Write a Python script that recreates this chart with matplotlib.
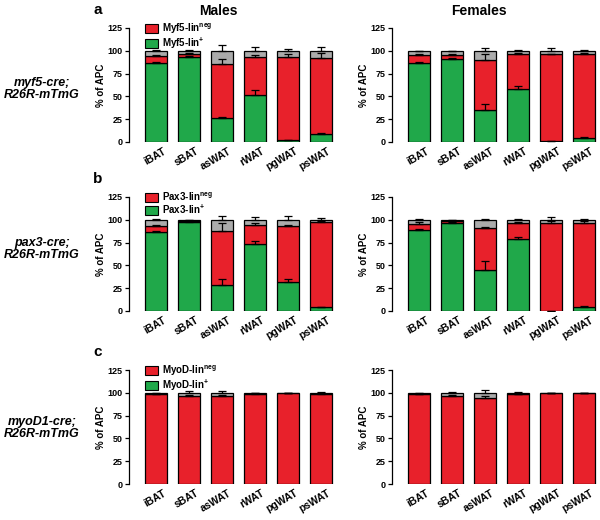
import matplotlib
matplotlib.use("Agg")
import matplotlib.pyplot as plt
import matplotlib.transforms as mtransforms
from matplotlib.patches import Patch
import numpy as np

plt.rcParams['font.family'] = ['Liberation Sans', 'DejaVu Sans']
plt.rcParams['font.weight'] = 'bold'
plt.rcParams['mathtext.fontset'] = 'custom'
plt.rcParams['mathtext.rm'] = 'Liberation Sans:bold'
plt.rcParams['mathtext.it'] = 'Liberation Sans:bold'
plt.rcParams['mathtext.bf'] = 'Liberation Sans:bold'

categories = ["iBAT", "sBAT", "asWAT", "rWAT", "pgWAT", "psWAT"]
yticks = [0, 25, 50, 75, 100, 125]
row_labels = ["myf5-cre;\nR26R-mTmG", "pax3-cre;\nR26R-mTmG", "myoD1-cre;\nR26R-mTmG"]
legend_names = ["Myf5", "Pax3", "MyoD"]
col_titles = ["Males", "Females"]
panel_letters = ["a", "b", "c"]

# green (lin+) value, top of red (lin neg) segment, rest gray up to 100
myf5_m_green = [86.3, 93.6, 26.0, 52.0, 2.2, 8.4]
myf5_m_redtop = [94.7, 96.5, 85.2, 92.8, 93.6, 91.7]
myf5_m_err_green = [1.0, 0.5, 1.0, 4.7, 0.3, 1.5]
myf5_m_err_red = [0.8, 0.8, 5.5, 2.6, 3.4, 6.3]
myf5_m_err_gray = [0.5, 0.4, 6.0, 3.8, 2.3, 3.8]

myf5_f_green = [86.8, 91.2, 34.8, 58.4, 0.8, 4.7]
myf5_f_redtop = [95.2, 95.0, 89.7, 96.0, 96.0, 96.5]
myf5_f_err_green = [0.8, 0.5, 7.0, 3.0, 0.3, 0.8]
myf5_f_err_red = [0.8, 1.0, 7.0, 1.5, 1.0, 1.5]
myf5_f_err_gray = [0.3, 0.3, 2.6, 0.8, 3.0, 0.8]

pax3_m_green = [86.9, 98.0, 28.8, 74.0, 32.0, 4.0]
pax3_m_redtop = [93.5, 98.5, 88.0, 94.5, 93.5, 98.0]
pax3_m_err_green = [0.8, 0.3, 6.0, 3.0, 2.7, 0.5]
pax3_m_err_red = [0.5, 0.3, 8.4, 2.5, 0.5, 0.8]
pax3_m_err_gray = [1.0, 0.3, 4.0, 3.0, 4.0, 2.0]

pax3_f_green = [89.0, 97.0, 45.5, 79.0, 0.3, 4.7]
pax3_f_redtop = [95.3, 98.5, 91.0, 97.0, 96.4, 97.0]
pax3_f_err_green = [0.8, 0.5, 9.0, 1.7, 0.1, 0.8]
pax3_f_err_red = [2.0, 0.5, 1.0, 0.8, 2.0, 1.5]
pax3_f_err_gray = [0.5, 0.3, 0.5, 0.5, 3.6, 0.5]

myod_m_green = [0.0, 0.0, 0.0, 0.0, 0.0, 0.0]
myod_m_redtop = [98.5, 96.0, 96.7, 99.0, 99.5, 99.0]
myod_m_err_green = [0.0, 0.0, 0.0, 0.0, 0.0, 0.0]
myod_m_err_red = [0.5, 2.0, 1.0, 0.3, 0.2, 0.5]
myod_m_err_gray = [0.3, 2.0, 1.5, 0.3, 0.2, 1.0]

myod_f_green = [0.0, 0.0, 0.0, 0.0, 0.0, 0.0]
myod_f_redtop = [98.2, 97.0, 94.0, 98.5, 99.6, 99.6]
myod_f_err_green = [0.0, 0.0, 0.0, 0.0, 0.0, 0.0]
myod_f_err_red = [0.5, 0.8, 3.0, 0.5, 0.2, 0.2]
myod_f_err_gray = [0.3, 0.8, 3.0, 0.5, 0.2, 0.2]

panels = [
    [(myf5_m_green, myf5_m_redtop, myf5_m_err_green, myf5_m_err_red, myf5_m_err_gray),
     (myf5_f_green, myf5_f_redtop, myf5_f_err_green, myf5_f_err_red, myf5_f_err_gray)],
    [(pax3_m_green, pax3_m_redtop, pax3_m_err_green, pax3_m_err_red, pax3_m_err_gray),
     (pax3_f_green, pax3_f_redtop, pax3_f_err_green, pax3_f_err_red, pax3_f_err_gray)],
    [(myod_m_green, myod_m_redtop, myod_m_err_green, myod_m_err_red, myod_m_err_gray),
     (myod_f_green, myod_f_redtop, myod_f_err_green, myod_f_err_red, myod_f_err_gray)],
]

RED = "#E8212B"
GREEN = "#20A84A"
GRAY = "#ABABAB"

fig = plt.figure(figsize=(6.0, 5.2), dpi=100)
W, H = 600.0, 520.0
col_left = [129, 392]
ax_w = 207
row_top = [28, 197, 370]
ax_h = 114
row_label_y = [89, 249, 428]
title_x = [218, 479]

x = np.arange(len(categories))
bw = 0.66

for r in range(3):
    for c in range(2):
        g, rt, eg, er, egr = [np.array(v, dtype=float) for v in panels[r][c]]
        red = rt - g
        gray = 100.0 - rt
        ax = fig.add_axes([col_left[c] / W, 1 - (row_top[r] + ax_h) / H, ax_w / W, ax_h / H])
        ax.bar(x, g, bw, color=GREEN, edgecolor="black", linewidth=0.9, zorder=2)
        ax.bar(x, red, bw, bottom=g, color=RED, edgecolor="black", linewidth=0.9, zorder=2)
        ax.bar(x, gray, bw, bottom=rt, color=GRAY, edgecolor="black", linewidth=0.9, zorder=2)
        for top, e in ((g, eg), (rt, er), (np.full_like(g, 100.0), egr)):
            m = e > 0
            if m.any():
                ax.errorbar(x[m], top[m], yerr=[np.zeros(m.sum()), e[m]], fmt="none",
                            ecolor="black", elinewidth=0.9, capsize=3.2, capthick=0.9,
                            zorder=3)
        ax.set_xlim(-0.83, 5.45)
        ax.set_ylim(0, 125)
        ax.set_yticks(yticks)
        ax.set_yticklabels([str(t) for t in yticks], fontsize=6.5, fontweight="bold")
        ax.set_xticks(x)
        ax.set_xticklabels([])
        offset = mtransforms.ScaledTranslation(11 / 100.0, -4 / 100.0, fig.dpi_scale_trans)
        tr = ax.get_xaxis_transform() + offset
        for xi, lab in zip(x, categories):
            ax.text(xi, 0, lab, transform=tr, rotation=30, ha="right", va="top",
                    fontsize=7.5, fontweight="bold", clip_on=False)
        ax.tick_params(axis="x", length=0, pad=3)
        ax.tick_params(axis="y", length=3, width=0.9, pad=1.5, direction="out")
        for s in ("top", "right", "bottom"):
            ax.spines[s].set_visible(False)
        ax.spines["left"].set_linewidth(0.9)
        ax.set_ylabel("% of APC", fontsize=7, fontweight="bold", labelpad=1)
        if c == 0:
            name = legend_names[r]
            handles = [Patch(facecolor=RED, edgecolor="black", linewidth=0.8),
                       Patch(facecolor=GREEN, edgecolor="black", linewidth=0.8)]
            labels = [name + r"-lin$^{\mathrm{neg}}$", name + r"-lin$^{+}$"]
            ax.legend(handles, labels, loc="upper left", bbox_to_anchor=(0.075, 1.06),
                      frameon=False, handlelength=1.4, handleheight=1.1,
                      handletextpad=0.4, labelspacing=0.02, borderpad=0.0,
                      borderaxespad=0.0, prop={"weight": "bold", "size": 7})

for c in range(2):
    fig.text(title_x[c] / W, 1 - 11 / H, col_titles[c], ha="center", va="center",
             fontsize=10, fontweight="bold")

for r in range(3):
    fig.text(42 / W, 1 - row_label_y[r] / H, row_labels[r], ha="center", va="center",
             fontsize=9, fontweight="bold", fontstyle="italic", linespacing=1.1)
    fig.text(98 / W, 1 - (row_top[r] - 18) / H, panel_letters[r], ha="center", va="center",
             fontsize=11, fontweight="bold")

fig.savefig("out.png", dpi=100)
